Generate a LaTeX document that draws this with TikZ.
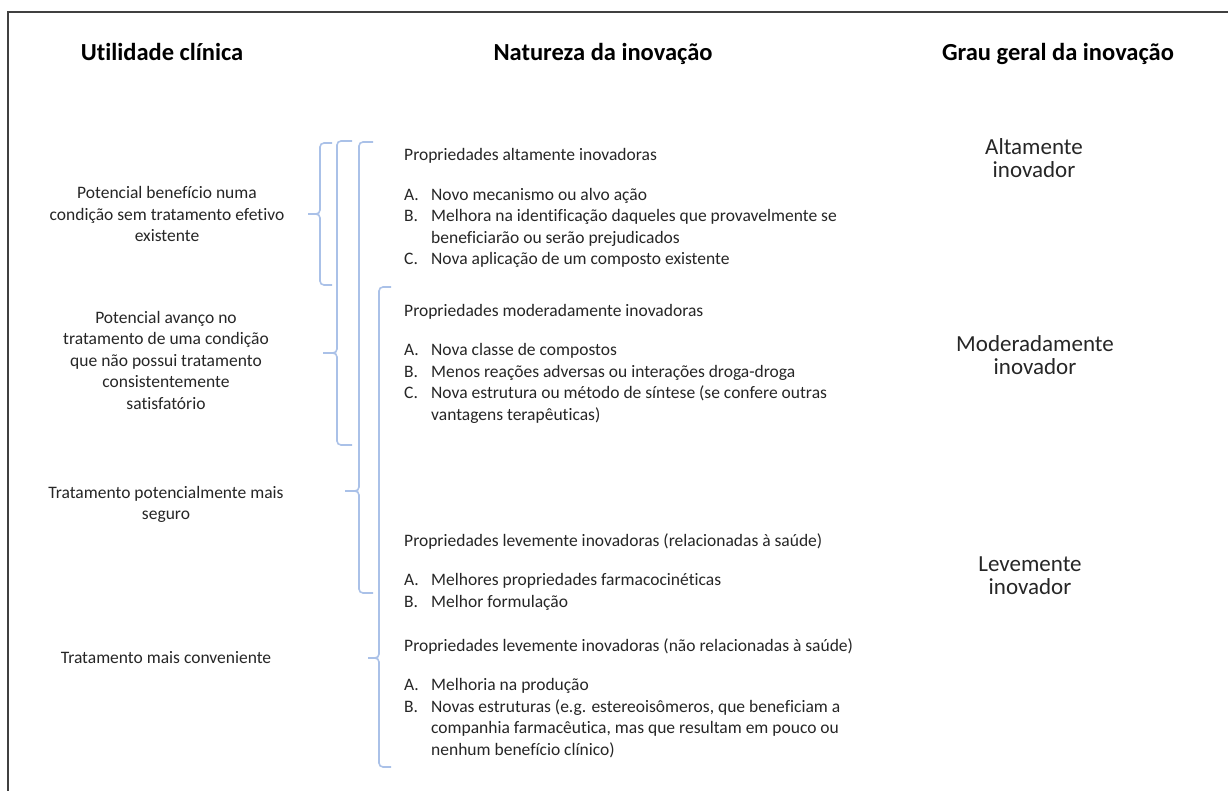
\documentclass[tikz,border=0pt]{standalone}
\usepackage{fontspec}
\setmainfont{Carlito}[Ligatures=NoCommon]
\definecolor{bracecol}{RGB}{170,193,232}
\definecolor{txt}{RGB}{38,38,38}
\definecolor{framecol}{RGB}{64,64,64}
\newcommand\itm[1]{\makebox[27pt][l]{#1}}
\newcommand\cont{\hspace*{27pt}}
\begin{document}
\begin{tikzpicture}[x=1pt,y=-1pt,
  brace/.style={draw=bracecol,line width=1.6pt,rounded corners=4pt},
  head/.style={font=\fontsize{24.5}{29}\selectfont\bfseries,text=black,anchor=base,inner sep=0pt},
  util/.style={font=\fontsize{17.5}{21.5}\selectfont,text=txt,align=center,anchor=base,inner sep=0pt},
  prop/.style={font=\fontsize{17.5}{21.5}\selectfont,text=txt,align=left,anchor=base west,inner sep=0pt},
  grau/.style={font=\fontsize{23}{23}\selectfont,text=txt,align=center,anchor=base,inner sep=0pt},
]
\useasboundingbox (0,0) rectangle (1228,791);
\fill[white] (0,0) rectangle (1228,791);
% frame
\draw[framecol,line width=2pt] (8,791) -- (8,12) -- (1228,12);

% column headings
\node[head] (h1) at (162,61) {Utilidade clínica};
\node[head] (h2) at (603,61) {Natureza da inovação};
\node[head] (h3) at (1058,61) {Grau geral da inovação};

% clinical utility (positions give the baseline of the last line)
\node[util] (u1) at (167,242) {Potencial benefício numa\\condição sem tratamento efetivo\\existente};
\node[util] (u2) at (166,409) {Potencial avanço no\\tratamento de uma condição\\que não possui tratamento\\consistentemente\\satisfatório};
\node[util] (u3) at (166,519.5) {Tratamento potencialmente mais\\seguro};
\node[util] (u4) at (166,663) {Tratamento mais conveniente};

% nature of the innovation
\node[prop] (p1) at (404,265) {Propriedades altamente inovadoras\\[18pt]
  \itm{A.}Novo mecanismo ou alvo ação\\
  \itm{B.}Melhora na identificação daqueles que provavelmente se\\
  \cont beneficiarão ou serão prejudicados\\
  \itm{C.}Nova aplicação de um composto existente};
\node[prop] (p2) at (404,420) {Propriedades moderadamente inovadoras\\[18pt]
  \itm{A.}Nova classe de compostos\\
  \itm{B.}Menos reações adversas ou interações droga-droga\\
  \itm{C.}Nova estrutura ou método de síntese (se confere outras\\
  \cont vantagens terapêuticas)};
\node[prop] (p3) at (404,607) {Propriedades levemente inovadoras (relacionadas à saúde)\\[18pt]
  \itm{A.}Melhores propriedades farmacocinéticas\\
  \itm{B.}Melhor formulação};
\node[prop] (p4) at (404,755) {Propriedades levemente inovadoras (não relacionadas à saúde)\\[18pt]
  \itm{A.}Melhoria na produção\\
  \itm{B.}Novas estruturas (e.g. estereoisômeros, que beneficiam a\\
  \cont companhia farmacêutica, mas que resultam em pouco ou\\
  \cont nenhum benefício clínico)};

% overall degree
\node[grau] (g1) at (1034,178) {Altamente\\inovador};
\node[grau] (g2) at (1035,374) {Moderadamente\\inovador};
\node[grau] (g3) at (1030,594) {Levemente\\inovador};

% braces: hook end, vertical x, top, tip y, bottom, tip x
\newcommand\bracepath[6]{%
  \draw[brace] (#1,#3) -- (#2,#3) -- (#2,#4) -- (#6,#4);
  \draw[brace] (#6,#4) -- (#2,#4) -- (#2,#5) -- (#1,#5);}
\bracepath{332}{320}{143}{214}{285}{308}
\bracepath{352}{337}{141}{353}{445}{323}
\bracepath{373}{359}{142}{491}{593}{345}
\bracepath{391}{379}{287}{658}{767}{368}
\end{tikzpicture}
\end{document}
